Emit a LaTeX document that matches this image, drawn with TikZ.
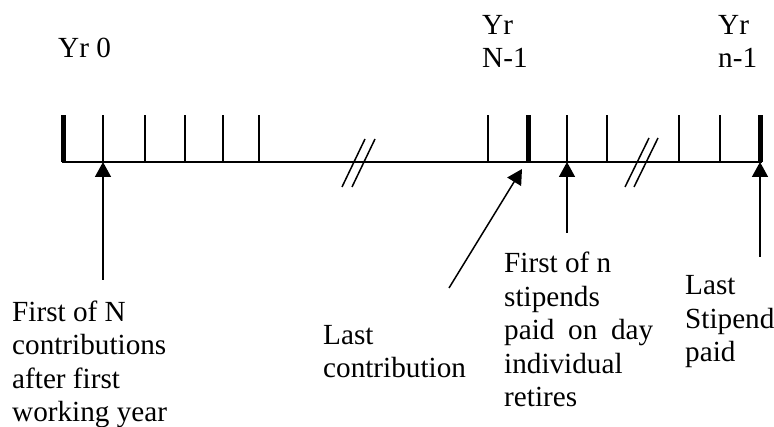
\documentclass[tikz,border=0pt]{standalone}
\usepackage{fontspec}
\setmainfont{Liberation Serif}
\usetikzlibrary{arrows.meta}
\begin{document}
\begin{tikzpicture}[x=1pt,y=-1pt,
  axisline/.style={line width=1.6pt},
  thintick/.style={line width=1.5pt},
  thicktick/.style={line width=5pt},
  slash/.style={line width=1.5pt},
  pointer/.style={line width=1.5pt,-{Triangle[length=15pt,width=16pt]}},
  lbl/.style={anchor=base west,inner sep=0pt,align=left,font=\fontsize{29.2}{33.6}\selectfont}]
\useasboundingbox (0,0) rectangle (774,427);
% axis
\coordinate (a0) at (62,162);
\coordinate (a1) at (762,162);
\draw[axisline] (a0) -- (a1);
% thick ticks
\coordinate (T0) at (63.5,162); \coordinate (T0t) at (63.5,115);
\coordinate (T1) at (528,162);  \coordinate (T1t) at (528,115);
\coordinate (T2) at (760,162);  \coordinate (T2t) at (760,115);
\draw[thicktick] (T0) -- (T0t);
\draw[thicktick] (T1) -- (T1t);
\draw[thicktick] (T2) -- (T2t);
% thin ticks
\foreach \x/\n in {103/k1,145/k2,185/k3,223/k4,259/k5,488/k6,567/k7,607/k8,679/k9,720/k10}{
  \coordinate (\n) at (\x,162);
  \coordinate (\n t) at (\x,115);
  \draw[thintick] (\n) -- (\n t);
}
% break marks
\coordinate (s1a) at (342,187); \coordinate (s1b) at (365,139);
\coordinate (s1c) at (352,187); \coordinate (s1d) at (375,139);
\coordinate (s2a) at (625,187); \coordinate (s2b) at (649,138);
\coordinate (s2c) at (634,187); \coordinate (s2d) at (658,138);
\draw[slash] (s1a) -- (s1b);
\draw[slash] (s1c) -- (s1d);
\draw[slash] (s2a) -- (s2b);
\draw[slash] (s2c) -- (s2d);
% arrows
\coordinate (p1) at (103,280);
\coordinate (p2) at (449,288); \coordinate (q2) at (522,169);
\coordinate (p3) at (567,233);
\coordinate (p4) at (760,257);
\draw[pointer] (p1) -- (k1);
\draw[pointer] (p2) -- (q2);
\draw[pointer] (p3) -- (k7);
\draw[pointer] (p4) -- (T2);
% labels (anchored at the baseline of their last line)
\node[lbl] (y0) at (58,58) {Yr 0};
\node[lbl] (yN) at (482,68) {Yr\\N-1};
\node[lbl] (yn) at (718,68) {Yr\\n-1};
\node[lbl] (l1) at (12,422) {First of N\\contributions\\after first\\working year};
\node[lbl] (l2) at (323,378) {Last\\contribution};
\node[lbl] (l3) at (504,407) {First of n\\stipends\\\makebox[149pt][s]{paid on day}\\individual\\retires};
\node[lbl] (l4) at (685,362) {Last\\Stipend\\paid};
\end{tikzpicture}
\end{document}
